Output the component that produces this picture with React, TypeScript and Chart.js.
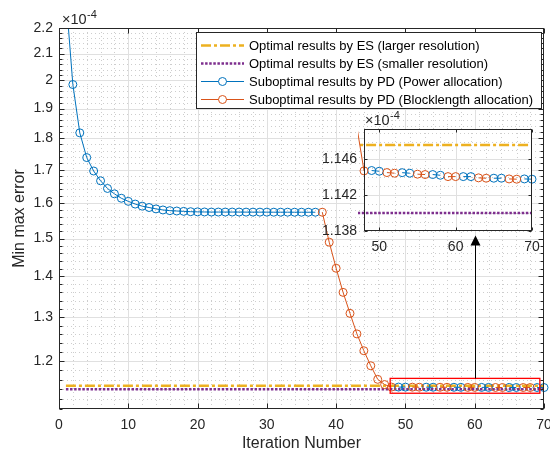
import React, { useEffect, useRef } from "react";
import { Chart, registerables } from "chart.js";

Chart.register(...registerables);

const FONT = "'Liberation Sans', Arial, Helvetica, sans-serif";
const AXIS_COLOR = "#262626";

// ---------- data (values in units of 1e-4) ----------
const iterations = [
  1, 2, 3, 4, 5, 6, 7, 8, 9, 10, 11, 12, 13, 14, 15, 16, 17, 18, 19, 20,
  21, 22, 23, 24, 25, 26, 27, 28, 29, 30, 31, 32, 33, 34, 35, 36, 37, 38, 39, 40,
  41, 42, 43, 44, 45, 46, 47, 48, 49, 50, 51, 52, 53, 54, 55, 56, 57, 58, 59, 60,
  61, 62, 63, 64, 65, 66, 67, 68, 69, 70,
];

const powerAllocation: (number | null)[] = [
  2.33, 1.985, 1.818, 1.738, 1.696, 1.666, 1.643, 1.627, 1.614, 1.605,
  1.597, 1.591, 1.587, 1.583, 1.58, 1.578, 1.577, 1.576, 1.575, 1.5745,
  1.5742, 1.574, 1.574, 1.574, 1.574, 1.574, 1.5738, 1.5738, 1.5737, 1.5737,
  1.5736, 1.5736, 1.5736, 1.5735, 1.5735, 1.5735, 1.5735,
  null, null, null, null, null, null, null, null, null, null, null,
  1.14476, 1.14468, null, null, 1.14452, 1.14446, null, null, 1.14431, 1.14423,
  null, null, 1.14408, 1.14408, null, null, 1.1439, 1.1439, null, null,
  1.14382, 1.14379,
];

const blocklengthAllocation: (number | null)[] = [
  null, null, null, null, null, null, null, null, null, null,
  null, null, null, null, null, null, null, null, null, null,
  null, null, null, null, null, null, null, null, null, null,
  null, null, null, null, null, null, null,
  1.5735, 1.49, 1.421, 1.36, 1.309, 1.261, 1.223, 1.19, 1.161, 1.15, 1.14472,
  null, null, 1.14453, 1.14446, null, null, 1.14435, 1.14431, null, null,
  1.14408, 1.14408, null, null, 1.14394, 1.1439, null, null, 1.14382, 1.14379,
  null, null,
];

const esLargerResolution = 1.1476;
const esSmallerResolution = 1.14;
const esIterationRange = [1, 70];

const xMajorTicks = [0, 10, 20, 30, 40, 50, 60, 70];
const yMajorTicks = [1.2, 1.3, 1.4, 1.5, 1.6, 1.7, 1.8, 1.9, 2, 2.1, 2.2];
const insetXTicks = [50, 60, 70];
const insetYTicks = [1.138, 1.142, 1.146];

const seriesLabels = [
  "Optimal results by ES (larger resolution)",
  "Optimal results by ES (smaller resolution)",
  "Suboptimal results by PD (Power allocation)",
  "Suboptimal results by PD (Blocklength allocation)",
];

const COLORS = {
  yellow: "#EDB120",
  purple: "#7E2F8E",
  blue: "#0072BD",
  orange: "#D95319",
};
const YELLOW_DASH = [10, 3, 3, 3];
const PURPLE_DASH = [2.5, 1.6];

// ---------- helpers ----------
function toPoints(values: (number | null)[]) {
  return iterations.map((x, i) => ({ x, y: values[i] }));
}

function makeDatasets(clip: any) {
  return [
    {
      label: seriesLabels[0],
      data: esIterationRange.map((x) => ({ x, y: esLargerResolution })),
      borderColor: COLORS.yellow,
      borderWidth: 2.5,
      borderDash: YELLOW_DASH,
      pointRadius: 0,
      order: 4,
      clip,
    },
    {
      label: seriesLabels[1],
      data: esIterationRange.map((x) => ({ x, y: esSmallerResolution })),
      borderColor: COLORS.purple,
      borderWidth: 2.5,
      borderDash: PURPLE_DASH,
      pointRadius: 0,
      order: 3,
      clip,
    },
    {
      label: seriesLabels[2],
      data: toPoints(powerAllocation),
      borderColor: COLORS.blue,
      borderWidth: 1,
      pointRadius: 4,
      pointHoverRadius: 4,
      pointBorderWidth: 1,
      pointBorderColor: COLORS.blue,
      pointBackgroundColor: "rgba(0,0,0,0)",
      order: 2,
      clip,
    },
    {
      label: seriesLabels[3],
      data: toPoints(blocklengthAllocation),
      borderColor: COLORS.orange,
      borderWidth: 1,
      pointRadius: 4,
      pointHoverRadius: 4,
      pointBorderWidth: 1,
      pointBorderColor: COLORS.orange,
      pointBackgroundColor: "rgba(0,0,0,0)",
      order: 1,
      clip,
    },
  ];
}

function minorValues(min: number, max: number, step: number, majors: number[]) {
  const out: number[] = [];
  const start = Math.ceil(min / step - 1e-9);
  const end = Math.floor(max / step + 1e-9);
  for (let k = start; k <= end; k++) {
    const v = k * step;
    if (majors.some((m) => Math.abs(m - v) < step * 1e-3)) continue;
    out.push(v);
  }
  return out;
}

type AxesCfg = {
  xMajor: number[];
  yMajor: number[];
  xMinorStep: number;
  yMinorStep: number;
  yMinorTicks: boolean;
  tickLen: number;
  minorTickLen: number;
};

function axesPlugin(cfg: AxesCfg) {
  return {
    id: "matlabAxes",
    beforeDatasetsDraw(chart: any) {
      const { ctx, chartArea: a, scales } = chart;
      const xs = scales.x;
      const ys = scales.y;
      ctx.save();
      ctx.fillStyle = "#ffffff";
      ctx.fillRect(a.left, a.top, a.right - a.left, a.bottom - a.top);
      ctx.lineWidth = 1;
      // minor grid (dotted)
      ctx.strokeStyle = "#cdcdcd";
      ctx.setLineDash([1, 3]);
      const xMin = minorValues(xs.min, xs.max, cfg.xMinorStep, cfg.xMajor);
      const yMin = minorValues(ys.min, ys.max, cfg.yMinorStep, cfg.yMajor);
      ctx.beginPath();
      xMin.forEach((v) => {
        const px = Math.round(xs.getPixelForValue(v)) + 0.5;
        if (px <= a.left + 1 || px >= a.right - 1) return;
        ctx.moveTo(px, a.top);
        ctx.lineTo(px, a.bottom);
      });
      yMin.forEach((v) => {
        const py = Math.round(ys.getPixelForValue(v)) + 0.5;
        if (py <= a.top + 1 || py >= a.bottom - 1) return;
        ctx.moveTo(a.left, py);
        ctx.lineTo(a.right, py);
      });
      ctx.stroke();
      // major grid (solid)
      ctx.setLineDash([]);
      ctx.strokeStyle = "#e0e0e0";
      ctx.beginPath();
      cfg.xMajor.forEach((v) => {
        const px = Math.round(xs.getPixelForValue(v)) + 0.5;
        if (px <= a.left + 1 || px >= a.right - 1) return;
        ctx.moveTo(px, a.top);
        ctx.lineTo(px, a.bottom);
      });
      cfg.yMajor.forEach((v) => {
        const py = Math.round(ys.getPixelForValue(v)) + 0.5;
        if (py <= a.top + 1 || py >= a.bottom - 1) return;
        ctx.moveTo(a.left, py);
        ctx.lineTo(a.right, py);
      });
      ctx.stroke();
      ctx.restore();
    },
    afterDatasetsDraw(chart: any) {
      const { ctx, chartArea: a, scales } = chart;
      const xs = scales.x;
      const ys = scales.y;
      ctx.save();
      ctx.strokeStyle = AXIS_COLOR;
      ctx.lineWidth = 1;
      ctx.setLineDash([]);
      const L = Math.round(a.left) + 0.5;
      const R = Math.round(a.right) - 0.5;
      const T = Math.round(a.top) + 0.5;
      const B = Math.round(a.bottom) - 0.5;
      ctx.strokeRect(L, T, R - L, B - T);
      ctx.beginPath();
      cfg.xMajor.forEach((v) => {
        const px = Math.round(xs.getPixelForValue(v)) + 0.5;
        ctx.moveTo(px, B);
        ctx.lineTo(px, B - cfg.tickLen);
        ctx.moveTo(px, T);
        ctx.lineTo(px, T + cfg.tickLen);
      });
      cfg.yMajor.forEach((v) => {
        const py = Math.round(ys.getPixelForValue(v)) + 0.5;
        ctx.moveTo(L, py);
        ctx.lineTo(L + cfg.tickLen, py);
        ctx.moveTo(R, py);
        ctx.lineTo(R - cfg.tickLen, py);
      });
      if (cfg.yMinorTicks) {
        minorValues(ys.min, ys.max, cfg.yMinorStep, cfg.yMajor).forEach((v) => {
          const py = Math.round(ys.getPixelForValue(v)) + 0.5;
          ctx.moveTo(L, py);
          ctx.lineTo(L + cfg.minorTickLen, py);
          ctx.moveTo(R, py);
          ctx.lineTo(R - cfg.minorTickLen, py);
        });
      }
      ctx.stroke();
      ctx.restore();
    },
  };
}

function drawExponent(ctx: CanvasRenderingContext2D, x: number, baseline: number) {
  ctx.save();
  ctx.fillStyle = AXIS_COLOR;
  ctx.textBaseline = "alphabetic";
  ctx.textAlign = "left";
  ctx.font = `14.5px ${FONT}`;
  ctx.fillText("\u00d710", x, baseline);
  const w = ctx.measureText("\u00d710").width;
  ctx.font = `11px ${FONT}`;
  ctx.fillText("-4", x + w + 0.5, baseline - 6);
  ctx.restore();
}

const mainOverlay = {
  id: "mainOverlay",
  afterDraw(chart: any) {
    const { ctx, chartArea: a, scales } = chart;
    const xs = scales.x;
    const ys = scales.y;
    drawExponent(ctx, a.left + 3, a.top - 4);

    // zoom rectangle
    ctx.save();
    const rx0 = xs.getPixelForValue(47.8);
    const rx1 = xs.getPixelForValue(69.4);
    const ry0 = ys.getPixelForValue(1.163);
    const ry1 = ys.getPixelForValue(1.132);
    ctx.strokeStyle = "#ff0000";
    ctx.lineWidth = 1.3;
    ctx.strokeRect(rx0, ry0, rx1 - rx0, ry1 - ry0);

    // arrow
    const ax = Math.round(xs.getPixelForValue(60)) + 0.5;
    const tipY = ys.getPixelForValue(1.508);
    ctx.strokeStyle = "#000";
    ctx.fillStyle = "#000";
    ctx.lineWidth = 1;
    ctx.beginPath();
    ctx.moveTo(ax, ry0);
    ctx.lineTo(ax, tipY + 8);
    ctx.stroke();
    ctx.beginPath();
    ctx.moveTo(ax, tipY);
    ctx.lineTo(ax - 5, tipY + 10);
    ctx.lineTo(ax + 5, tipY + 10);
    ctx.closePath();
    ctx.fill();
    ctx.restore();

    // legend
    ctx.save();
    ctx.font = `13px ${FONT}`;
    const ds = chart.data.datasets;
    const widths = ds.map((d: any) => ctx.measureText(d.label).width);
    const w = Math.round(5 + 43 + 5 + Math.max(...widths) + 9);
    const right = Math.round(a.right) - 2;
    const left = right - w;
    const top = Math.round(a.top) + 4;
    const h = 76;
    ctx.fillStyle = "#fff";
    ctx.fillRect(left, top, w, h);
    ctx.strokeStyle = AXIS_COLOR;
    ctx.lineWidth = 1;
    ctx.strokeRect(left + 0.5, top + 0.5, w - 1, h);
    ds.forEach((d: any, i: number) => {
      const y = top + 13.5 + i * 18;
      ctx.save();
      ctx.strokeStyle = d.borderColor;
      ctx.lineWidth = d.borderWidth;
      ctx.setLineDash(d.borderDash || []);
      ctx.beginPath();
      ctx.moveTo(left + 5, y);
      ctx.lineTo(left + 48, y);
      ctx.stroke();
      if (d.pointRadius) {
        ctx.setLineDash([]);
        ctx.lineWidth = 1;
        ctx.beginPath();
        ctx.arc(left + 26.5, y, 4, 0, Math.PI * 2);
        ctx.fillStyle = "#fff";
        ctx.fill();
        ctx.stroke();
      }
      ctx.restore();
      ctx.fillStyle = "#000";
      ctx.textBaseline = "middle";
      ctx.textAlign = "left";
      ctx.fillText(d.label, left + 53, y + 0.5);
    });
    ctx.restore();
  },
};

const insetOverlay = {
  id: "insetOverlay",
  afterDraw(chart: any) {
    const a = chart.chartArea;
    drawExponent(chart.ctx, a.left + 1, a.top - 4);
  },
};

function fmtY(v: number) {
  return String(Math.round(v * 10) / 10);
}

export default function App() {
  const mainRef = useRef<HTMLCanvasElement>(null);
  const insetRef = useRef<HTMLCanvasElement>(null);

  useEffect(() => {
    document.body.style.margin = "0";
    const tickFont = { family: FONT, size: 14 };

    const main = new Chart(mainRef.current as HTMLCanvasElement, {
      type: "line",
      data: { datasets: makeDatasets({ left: 0, top: 0, bottom: 0, right: 6 }) as any },
      options: {
        responsive: false,
        animation: false,
        devicePixelRatio: 1,
        events: [],
        layout: { padding: { left: 0, top: 28, right: 6, bottom: 0 } },
        plugins: { legend: { display: false }, tooltip: { enabled: false } },
        scales: {
          x: {
            type: "linear",
            min: 0,
            max: 70,
            afterBuildTicks: (s: any) => {
              s.ticks = xMajorTicks.map((v) => ({ value: v }));
            },
            afterFit: (s: any) => {
              s.height = 44;
              s.paddingLeft = 0;
              s.paddingRight = 0;
            },
            grid: { display: false, drawTicks: false },
            border: { display: false },
            ticks: {
              color: AXIS_COLOR,
              font: tickFont,
              padding: 8,
              maxRotation: 0,
              autoSkip: false,
              callback: (v: any) => String(v),
            },
            title: {
              display: true,
              text: "Iteration Number",
              color: AXIS_COLOR,
              font: { family: FONT, size: 16 },
              padding: { top: 0, bottom: 0 },
            },
          },
          y: {
            type: "logarithmic",
            min: 1.1,
            max: 2.2,
            afterBuildTicks: (s: any) => {
              s.ticks = yMajorTicks.map((v) => ({ value: v }));
            },
            afterFit: (s: any) => {
              s.width = 59;
              s.paddingTop = 0;
              s.paddingBottom = 0;
            },
            grid: { display: false, drawTicks: false },
            border: { display: false },
            ticks: {
              color: AXIS_COLOR,
              font: tickFont,
              padding: 6,
              autoSkip: false,
              callback: (v: any) => fmtY(Number(v)),
            },
            title: {
              display: true,
              text: "Min max error",
              color: AXIS_COLOR,
              font: { family: FONT, size: 16 },
              padding: { top: 10, bottom: 0 },
            },
          },
        },
      },
      plugins: [
        axesPlugin({
          xMajor: xMajorTicks,
          yMajor: yMajorTicks,
          xMinorStep: 2,
          yMinorStep: 0.02,
          yMinorTicks: true,
          tickLen: 5,
          minorTickLen: 3,
        }),
        mainOverlay,
      ],
    } as any);

    const inset = new Chart(insetRef.current as HTMLCanvasElement, {
      type: "line",
      data: { datasets: makeDatasets({ left: 6, top: 0, bottom: 0, right: 6 }) as any },
      options: {
        responsive: false,
        animation: false,
        devicePixelRatio: 1,
        events: [],
        layout: { padding: { left: 0, top: 29, right: 18, bottom: 0 } },
        plugins: { legend: { display: false }, tooltip: { enabled: false } },
        scales: {
          x: {
            type: "linear",
            min: 48,
            max: 70,
            afterBuildTicks: (s: any) => {
              s.ticks = insetXTicks.map((v) => ({ value: v }));
            },
            afterFit: (s: any) => {
              s.height = 29;
              s.paddingLeft = 0;
              s.paddingRight = 0;
            },
            grid: { display: false, drawTicks: false },
            border: { display: false },
            ticks: {
              color: AXIS_COLOR,
              font: tickFont,
              padding: 8,
              maxRotation: 0,
              autoSkip: false,
              callback: (v: any) => String(v),
            },
          },
          y: {
            type: "linear",
            min: 1.138,
            max: 1.1494,
            afterBuildTicks: (s: any) => {
              s.ticks = insetYTicks.map((v) => ({ value: v }));
            },
            afterFit: (s: any) => {
              s.width = 64;
              s.paddingTop = 0;
              s.paddingBottom = 0;
            },
            grid: { display: false, drawTicks: false },
            border: { display: false },
            ticks: {
              color: AXIS_COLOR,
              font: tickFont,
              padding: 7,
              autoSkip: false,
              callback: (v: any) => Number(v).toFixed(3),
            },
          },
        },
      },
      plugins: [
        axesPlugin({
          xMajor: insetXTicks,
          yMajor: insetYTicks,
          xMinorStep: 2,
          yMinorStep: 0.001,
          yMinorTicks: false,
          tickLen: 3,
          minorTickLen: 2,
        }),
        insetOverlay,
      ],
    } as any);

    return () => {
      main.destroy();
      inset.destroy();
    };
  }, []);

  return (
    <div style={{ position: "relative", width: 550, height: 453, background: "#fff" }}>
      <canvas
        ref={mainRef}
        width={550}
        height={453}
        style={{ position: "absolute", left: 0, top: 0 }}
      />
      <canvas
        ref={insetRef}
        width={250}
        height={160}
        style={{ position: "absolute", left: 300, top: 100 }}
      />
    </div>
  );
}
